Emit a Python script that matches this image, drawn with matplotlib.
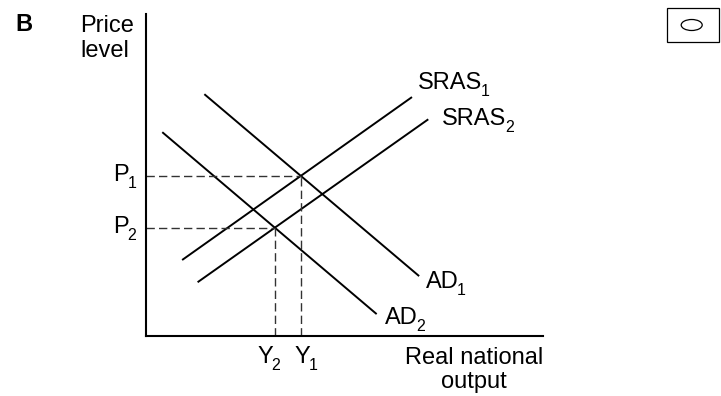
import numpy as np
import matplotlib
matplotlib.use('Agg')
import matplotlib.pyplot as plt
from matplotlib.patches import Rectangle, Ellipse

plt.rcParams['font.family'] = ['Liberation Sans', 'DejaVu Sans']

# curve end points: (real output, price level) on a 0-100 scale
sras1_x = [9.1, 67.0]
sras1_y = [23.6, 74.2]
sras2_x = [13.0, 71.1]
sras2_y = [16.7, 67.3]
ad1_x = [14.7, 68.8]
ad1_y = [75.1, 18.6]
ad2_x = [4.1, 58.1]
ad2_y = [63.3, 6.8]

FS = 17
SUB = 11.5


def cross(x1, y1, x2, y2):
    # intersection of two straight lines given by end points
    m1, c1 = np.polyfit(x1, y1, 1)
    m2, c2 = np.polyfit(x2, y2, 1)
    x = (c2 - c1) / (m1 - m2)
    return x, m1 * x + c1


def label(ax, x, y, main, sub):
    # main text plus a dropped subscript, like the exam diagram
    t = ax.text(x, y, main, fontsize=FS, ha='left', va='baseline', clip_on=False)
    ax.annotate(sub, xy=(1, 0), xycoords=t, xytext=(-1.0, -1.2),
                textcoords='offset points', fontsize=SUB, ha='left', va='baseline',
                annotation_clip=False)


y1, p1 = cross(sras1_x, sras1_y, ad1_x, ad1_y)
y2, p2 = cross(sras2_x, sras2_y, ad2_x, ad2_y)

fig = plt.figure(figsize=(7.21, 3.96), dpi=100)
ax = fig.add_axes([146 / 721, 60 / 396, 397 / 721, 322 / 396])
ax.set_xlim(0, 100)
ax.set_ylim(0, 100)
for s in ['top', 'right']:
    ax.spines[s].set_visible(False)
for s in ['left', 'bottom']:
    ax.spines[s].set_linewidth(1.5)
ax.set_xticks([])
ax.set_yticks([])

lw = 1.4
for xs, ys in [(sras1_x, sras1_y), (sras2_x, sras2_y), (ad1_x, ad1_y), (ad2_x, ad2_y)]:
    ax.plot(xs, ys, color='black', lw=lw, solid_capstyle='butt')

dash = dict(color='#333333', lw=1.0, dashes=(6, 3))
for yy, pp in [(y1, p1), (y2, p2)]:
    ax.plot([0, yy], [pp, pp], **dash)
    ax.plot([yy, yy], [0, pp], **dash)

# curve labels
label(ax, 68.5, 76.7, 'SRAS', '1')
label(ax, 74.6, 65.5, 'SRAS', '2')
label(ax, 70.5, 14.9, 'AD', '1')
label(ax, 60.2, 3.7, 'AD', '2')

# equilibrium labels
label(ax, -8.3, p1 - 1.6, 'P', '1')
label(ax, -8.3, p2 - 1.6, 'P', '2')
label(ax, y2 - 4.4, -8.4, 'Y', '2')
label(ax, y1 - 1.5, -8.4, 'Y', '1')

# axis titles and extras in figure pixels
px = lambda x, y: (x / 721, 1 - y / 396)
fig.text(*px(474, 364), 'Real national', fontsize=FS, ha='center', va='baseline')
fig.text(*px(474, 388), 'output', fontsize=FS, ha='center', va='baseline')
fig.text(*px(80, 32), 'Price', fontsize=FS, ha='left', va='baseline')
fig.text(*px(80, 57), 'level', fontsize=FS, ha='left', va='baseline')
fig.text(*px(15, 31), 'B', fontsize=FS, fontweight='bold', ha='left', va='baseline')

fig.patches.append(Rectangle(px(667, 42), 52 / 721, 34 / 396, transform=fig.transFigure,
                             fill=False, lw=0.9, ec='black'))
fig.patches.append(Ellipse(px(691.7, 25), 21 / 721, 11 / 396, transform=fig.transFigure,
                           fill=False, lw=0.9, ec='black'))

fig.savefig('out.png', dpi=100)
